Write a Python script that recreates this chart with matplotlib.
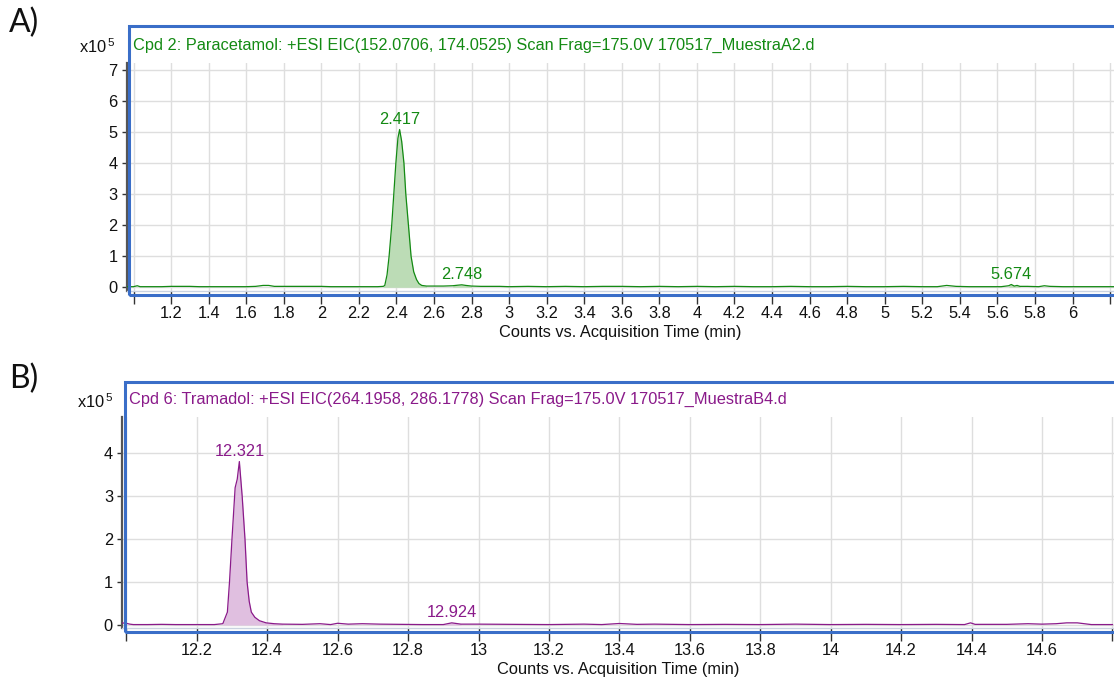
import numpy as np
import matplotlib
matplotlib.use("Agg")
import matplotlib.pyplot as plt
from matplotlib.patches import Rectangle
from matplotlib.ticker import FixedLocator, FixedFormatter

plt.rcParams['font.family'] = ['Liberation Sans', 'DejaVu Sans']

W, H = 1114, 678

# ---------------- Paracetamol EIC (x10^5 counts) ----------------
para_time = [0.96, 1.00, 1.02, 1.035, 1.05, 1.10, 1.15, 1.20, 1.25, 1.30, 1.35,
             1.40, 1.45, 1.50, 1.55, 1.60, 1.65, 1.69, 1.72, 1.75, 1.80, 1.85,
             1.90, 1.95, 2.00, 2.05, 2.10, 2.15, 2.20, 2.25, 2.30, 2.330, 2.338,
             2.350, 2.361, 2.375, 2.386, 2.397, 2.408, 2.417, 2.428, 2.440,
             2.450, 2.464, 2.478, 2.492, 2.507, 2.520, 2.535, 2.56, 2.60, 2.65,
             2.70, 2.73, 2.748, 2.77, 2.80, 2.85, 2.90, 2.95, 3.00, 3.10, 3.20,
             3.30, 3.40, 3.50, 3.60, 3.70, 3.80, 3.90, 4.00, 4.10, 4.20, 4.30,
             4.40, 4.50, 4.60, 4.70, 4.80, 4.90, 5.00, 5.10, 5.20, 5.28, 5.33,
             5.38, 5.45, 5.55, 5.62, 5.66, 5.674, 5.69, 5.705, 5.72, 5.76, 5.82,
             5.85, 5.88, 5.95, 6.05, 6.15, 6.22]
para_int = [0.02, 0.02, 0.05, 0.02, 0.02, 0.02, 0.02, 0.03, 0.03, 0.03, 0.02,
            0.02, 0.02, 0.02, 0.02, 0.02, 0.03, 0.06, 0.06, 0.03, 0.03, 0.03,
            0.03, 0.03, 0.03, 0.02, 0.02, 0.02, 0.02, 0.02, 0.02, 0.03, 0.06,
            0.40, 1.00, 2.00, 3.00, 4.00, 4.80, 5.08, 4.70, 4.00,
            3.00, 2.00, 1.00, 0.50, 0.25, 0.12, 0.06, 0.04, 0.04, 0.04,
            0.05, 0.07, 0.08, 0.06, 0.04, 0.03, 0.03, 0.03, 0.02, 0.03, 0.02,
            0.03, 0.02, 0.03, 0.03, 0.02, 0.03, 0.02, 0.03, 0.02, 0.03, 0.02,
            0.02, 0.03, 0.02, 0.02, 0.03, 0.02, 0.02, 0.03, 0.02, 0.02, 0.06,
            0.03, 0.02, 0.02, 0.02, 0.05, 0.09, 0.04, 0.06, 0.03, 0.03, 0.02,
            0.05, 0.03, 0.02, 0.02, 0.02, 0.02]
para_peaks = [2.417, 2.748, 5.674]
para_peak_int = [5.08, 0.08, 0.09]

# ---------------- Tramadol EIC (x10^5 counts) ----------------
tram_time = [11.985, 12.00, 12.01, 12.02, 12.06, 12.10, 12.14, 12.18, 12.22,
             12.25, 12.274, 12.287, 12.293, 12.300, 12.309, 12.315, 12.321,
             12.329, 12.337, 12.343, 12.349, 12.355, 12.365, 12.378, 12.397,
             12.42, 12.444, 12.50, 12.55, 12.58, 12.60, 12.63, 12.67, 12.72,
             12.78, 12.84, 12.90, 12.924, 12.95, 13.00, 13.10, 13.20, 13.30,
             13.35, 13.40, 13.45, 13.50, 13.60, 13.70, 13.80, 13.90, 14.00,
             14.10, 14.20, 14.30, 14.38, 14.397, 14.41, 14.50, 14.56, 14.60,
             14.64, 14.67, 14.70, 14.74, 14.80]
tram_int = [0.05, 0.04, 0.02, 0.01, 0.01, 0.015, 0.01, 0.01, 0.01,
            0.01, 0.03, 0.30, 1.00, 2.00, 3.20, 3.40, 3.81,
            3.00, 2.00, 1.00, 0.55, 0.30, 0.18, 0.10, 0.05,
            0.03, 0.02, 0.015, 0.03, 0.01, 0.04, 0.02, 0.03, 0.02,
            0.015, 0.01, 0.01, 0.05, 0.02, 0.02, 0.015, 0.01, 0.02,
            0.01, 0.035, 0.015, 0.02, 0.01, 0.015, 0.01, 0.02, 0.01,
            0.015, 0.01, 0.015, 0.01, 0.05, 0.015, 0.015, 0.03, 0.02,
            0.03, 0.05, 0.05, 0.01, 0.01]
tram_peaks = [12.321, 12.924]
tram_peak_int = [3.81, 0.05]

para_title = ("Cpd 2: Paracetamol: +ESI EIC(152.0706, 174.0525) "
              "Scan Frag=175.0V 170517_MuestraA2.d")
tram_title = ("Cpd 6: Tramadol: +ESI EIC(264.1958, 286.1778) "
              "Scan Frag=175.0V 170517_MuestraB4.d")
xlabel = "Counts vs. Acquisition Time (min)"

para_xticks = [round(1.0 + 0.2 * i, 1) for i in range(27)]
tram_xticks = [round(12.0 + 0.2 * i, 1) for i in range(15)]

GREEN = "#138a13"
GREEN_FILL = "#bcdcb6"
PURPLE = "#8a1a8a"
PURPLE_FILL = "#e0bfe0"
FRAME = "#3a6ec8"
GRID = "#dedede"
FS = 11.8

fig = plt.figure(figsize=(W / 100, H / 100), dpi=100)


def px_axes(left, right, top, bottom):
    return fig.add_axes([left / W, 1 - bottom / H, (right - left) / W,
                         (bottom - top) / H])


def frame(left, top, right, bottom):
    r = Rectangle((left / W, 1 - bottom / H), (right - left) / W,
                  (bottom - top) / H, transform=fig.transFigure,
                  fill=False, edgecolor=FRAME, linewidth=2.2, zorder=10)
    fig.add_artist(r)


def style_axes(ax, xticks, unlabeled, yticks):
    ax.set_facecolor("white")
    ax.xaxis.set_major_locator(FixedLocator(xticks))
    labels = []
    for t in xticks:
        if t in unlabeled:
            labels.append("")
        else:
            labels.append(("%g" % t))
    ax.xaxis.set_major_formatter(FixedFormatter(labels))
    ax.set_yticks(yticks)
    ax.set_yticklabels([str(v) for v in yticks])
    ax.grid(True, color=GRID, linewidth=1.0)
    ax.set_axisbelow(True)
    for s in ("top", "right"):
        ax.spines[s].set_visible(False)
    ax.spines["left"].set_color("#555555")
    ax.spines["left"].set_linewidth(1.6)
    ax.spines["bottom"].set_color("#c9d2e0")
    ax.spines["bottom"].set_linewidth(1.0)
    ax.tick_params(axis="x", direction="out", length=9, width=1,
                   color="#333333", labelsize=FS, pad=2, labelcolor="#111111")
    ax.tick_params(axis="y", direction="out", length=3.5, width=1,
                   color="#333333", labelsize=FS, pad=3, labelcolor="#111111")
    ax.set_xlabel(xlabel, fontsize=FS, labelpad=3, color="#111111")


def draw_trace(ax, t, y, color, fill, peaks, peak_int, fill_ranges):
    t = np.asarray(t)
    y = np.asarray(y)
    for lo, hi in fill_ranges:
        m = (t >= lo) & (t <= hi)
        ax.fill_between(t[m], 0, y[m], color=fill, linewidth=0, zorder=2)
    ax.plot(t, y, color=color, linewidth=0.9, zorder=3)
    for p, h in zip(peaks, peak_int):
        ax.annotate("%.3f" % p, (p, h), xytext=(0, 2.0),
                    textcoords="offset points", ha="center", va="bottom",
                    fontsize=FS, color=color, zorder=4)


# ---- Panel A ----
axA = px_axes(126.5, 1114, 63, 291)
style_axes(axA, para_xticks, [1.0, 6.2], list(range(8)))
axA.set_xlim(1 + (126.5 - 133.5) / 187.8, 1 + (1114 - 133.5) / 187.8)
axA.set_ylim((287.3 - 291) / 31.06, (287.3 - 63) / 31.06)
draw_trace(axA, para_time, para_int, GREEN, GREEN_FILL, para_peaks,
           para_peak_int, [(2.33, 2.56), (2.70, 2.80), (5.65, 5.72)])
frame(129, 26, 1116, 294.5)
fig.text(133 / W, 1 - 45 / H, para_title, color=GREEN, fontsize=FS,
         va="center", ha="left")
fig.text(79 / W, 1 - 47 / H, r"x10$^{\,\mathregular{5}}$", fontsize=FS,
         va="center", ha="left", color="#111111")
fig.text(9 / W, 1 - 23 / H, "A)", family="Lato", fontsize=23, va="center",
         ha="left", color="#111111")

# ---- Panel B ----
axB = px_axes(122, 1114, 417, 628)
style_axes(axB, tram_xticks, [12.0, 14.8], list(range(5)))
axB.set_xlim(12 + (122 - 126.3) / 352.2, 12 + (1114 - 126.3) / 352.2)
axB.set_ylim((625 - 628) / 42.9, (625 - 417) / 42.9)
draw_trace(axB, tram_time, tram_int, PURPLE, PURPLE_FILL, tram_peaks,
           tram_peak_int, [(12.27, 12.45), (12.90, 12.95)])
frame(125, 381.5, 1116, 631.5)
fig.text(129 / W, 1 - 399 / H, tram_title, color=PURPLE, fontsize=FS,
         va="center", ha="left")
fig.text(77 / W, 1 - 402 / H, r"x10$^{\,\mathregular{5}}$", fontsize=FS,
         va="center", ha="left", color="#111111")
fig.text(9 / W, 1 - 379 / H, "B)", family="Lato", fontsize=23, va="center",
         ha="left", color="#111111")

fig.savefig("out.png", dpi=100, facecolor="white")
